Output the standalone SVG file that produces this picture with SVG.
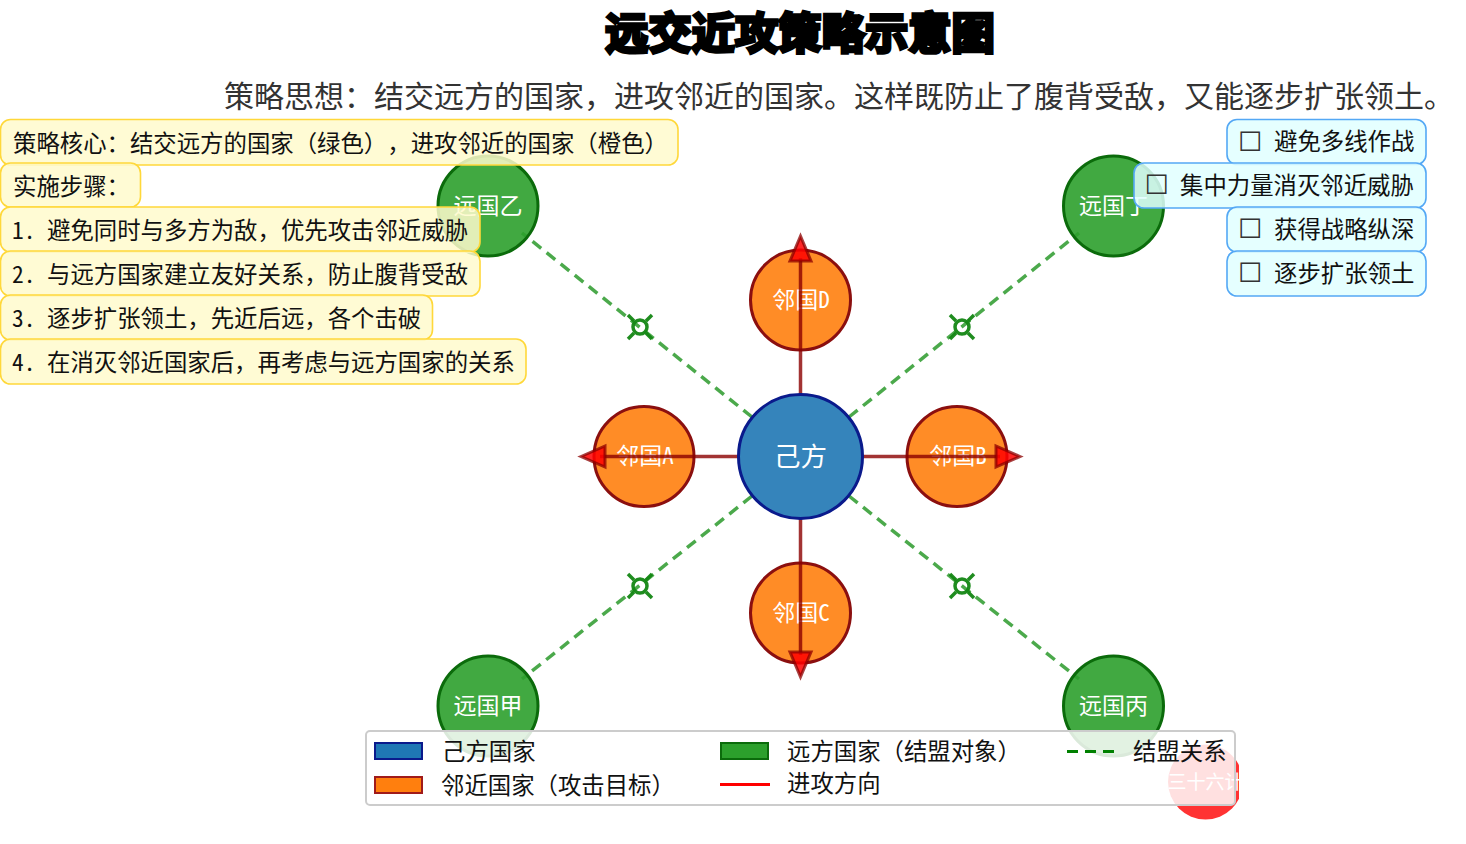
<svg xmlns="http://www.w3.org/2000/svg" width="1466" height="844" viewBox="0 0 1466 844">
<style>
text{font-family:"Noto Sans Mono CJK SC","Noto Sans CJK SC","Noto Sans",sans-serif;fill:#111;text-spacing-trim:space-all}
.node{stroke-width:3}
.far{fill:#2ca02c;fill-opacity:.9;stroke:#0b6b0b}
.near{fill:#ff7f0e;fill-opacity:.9;stroke:#8b0f0f}
.lab{fill:#fff;font-size:23px;text-anchor:middle}
.ally{stroke:#2b9a2b;stroke-opacity:.85;stroke-width:3.5;stroke-dasharray:11 7;fill:none}
.atk{stroke:#8b0000;stroke-opacity:.8;stroke-width:3.5;fill:none}
.head{fill:#f00;fill-opacity:.85;stroke:#8b0000;stroke-opacity:.75;stroke-width:3}
.mk{fill:none;stroke:#138613;stroke-width:3.500;stroke-opacity:.95}
.note{fill:#fffacd;fill-opacity:.85;stroke:#ffd83a;stroke-width:1.6}
.todo{fill:#e0ffff;fill-opacity:.85;stroke:#54a8f5;stroke-width:1.6}
.pt{font-size:23.4px}
.cb{font-size:27px;font-family:"DejaVu Sans",sans-serif;fill:#333}
.lg{font-size:23.4px}
</style>
<defs>
<clipPath id="redclip"><rect x="1100" y="700" width="139" height="140"/></clipPath>
<g id="m"><circle r="7"/><path d="M-6-6L-12-12M6-6L12-12M-6 6L-12 12M6 6L12 12"/></g>
</defs>
<g id="title"><text x="800" y="49" font-size="43.300" font-weight="700" text-anchor="middle" stroke="#000" stroke-width="3.500" style="fill:#000">远交近攻策略示意图</text></g>
<g id="subtitle"><text x="224" y="107" font-size="30" style="fill:#333">策略思想：结交远方的国家，进攻邻近的国家。这样既防止了腹背受敌，又能逐步扩张领土。</text></g>
<g id="stamp" clip-path="url(#redclip)"><circle cx="1205.500" cy="782" r="37.500" fill="#f00" fill-opacity=".8"/><text x="1205.500" y="789" font-size="19" text-anchor="middle" style="fill:#fff">三十六计</text></g>
<g id="connectors-ally">
<path class="ally" d="M752 417L522 233"/><path class="ally" d="M849 417L1079 233"/><path class="ally" d="M752 496L522 679"/><path class="ally" d="M849 496L1079 679"/>
<use href="#m" class="mk" x="640" y="327"/><use href="#m" class="mk" x="962" y="327"/><use href="#m" class="mk" x="640" y="586"/><use href="#m" class="mk" x="962" y="586"/>
</g>
<g id="node-jia"><circle class="node far" cx="488" cy="706" r="50"/><text class="lab" x="488" y="714">远国甲</text></g>
<g id="node-yi"><circle class="node far" cx="488" cy="206" r="50"/><text class="lab" x="488" y="214">远国乙</text></g>
<g id="node-bing"><circle class="node far" cx="1113.500" cy="706" r="50"/><text class="lab" x="1113.500" y="714">远国丙</text></g>
<g id="node-ding"><circle class="node far" cx="1113.500" cy="206" r="50"/><text class="lab" x="1113.500" y="214">远国丁</text></g>
<g id="node-a"><circle class="node near" cx="644" cy="456.500" r="50"/><text class="lab" x="645" y="464">邻国A</text></g>
<g id="node-b"><circle class="node near" cx="957" cy="456.500" r="50"/><text class="lab" x="958" y="464">邻国B</text></g>
<g id="node-c"><circle class="node near" cx="800.500" cy="613" r="50"/><text class="lab" x="801" y="621">邻国C</text></g>
<g id="node-d"><circle class="node near" cx="800.500" cy="300" r="50"/><text class="lab" x="801" y="308">邻国D</text></g>
<g id="connectors-attack">
<path class="atk" d="M738 456.500H600"/><path class="atk" d="M863 456.500H1000"/><path class="atk" d="M800.500 519V655"/><path class="atk" d="M800.500 394V258"/>
<path class="head" d="M800.500 236L811 261H790Z"/><path class="head" d="M800.500 677L811 652H790Z"/><path class="head" d="M581 456.500L605 446V467Z"/><path class="head" d="M1020 456.500L996 446V467Z"/>
</g>
<g id="node-self"><circle cx="800.500" cy="456.500" r="62" fill="#1f77b4" fill-opacity=".9" stroke="#0a1a8c" stroke-width="3"/><text class="lab" x="800.500" y="466" style="font-size:26.500px">己方</text></g>
<g id="notes">
<rect class="note" x="0.500" y="119.500" width="677.500" height="45.500" rx="10"/><text class="pt" x="13" y="152">策略核心：结交远方的国家（绿色），进攻邻近的国家（橙色）</text>
<rect class="note" x="0.500" y="163" width="140" height="44" rx="10"/><text class="pt" x="13" y="195">实施步骤：</text>
<rect class="note" x="0.500" y="207" width="479.500" height="45" rx="10"/><text class="pt" x="12" y="239">1.</text><text class="pt" x="47" y="239">避免同时与多方为敌，优先攻击邻近威胁</text>
<rect class="note" x="0.500" y="251" width="479.500" height="45" rx="10"/><text class="pt" x="12" y="283">2.</text><text class="pt" x="47" y="283">与远方国家建立友好关系，防止腹背受敌</text>
<rect class="note" x="0.500" y="295" width="432" height="45" rx="10"/><text class="pt" x="12" y="327">3.</text><text class="pt" x="47" y="327">逐步扩张领土，先近后远，各个击破</text>
<rect class="note" x="0.500" y="339" width="525.500" height="45" rx="10"/><text class="pt" x="12" y="371">4.</text><text class="pt" x="47" y="371">在消灭邻近国家后，再考虑与远方国家的关系</text>
</g>
<g id="todos">
<rect class="todo" x="1227" y="119.500" width="199" height="45" rx="10"/><text class="cb" x="1238" y="151">☐</text><text class="pt" x="1274" y="150">避免多线作战</text>
<rect class="todo" x="1134" y="163" width="292" height="45" rx="10"/><text class="cb" x="1144.500" y="194">☐</text><text class="pt" x="1180" y="194">集中力量消灭邻近威胁</text>
<rect class="todo" x="1227" y="207" width="199" height="45" rx="10"/><text class="cb" x="1238" y="238">☐</text><text class="pt" x="1274" y="238">获得战略纵深</text>
<rect class="todo" x="1227" y="251" width="199" height="45" rx="10"/><text class="cb" x="1238" y="282">☐</text><text class="pt" x="1274" y="282">逐步扩张领土</text>
</g>
<g id="legend">
<rect x="366" y="731" width="869" height="74" rx="4" fill="#fff" fill-opacity=".85" stroke="#ccc" stroke-width="2"/>
<rect x="375" y="743" width="47" height="16" fill="#1f77b4" stroke="#0a1a8c" stroke-width="2"/><text class="lg" x="442" y="760">己方国家</text>
<rect x="375" y="777" width="47" height="16" fill="#ff7f0e" stroke="#a01a1a" stroke-width="2"/><text class="lg" x="441" y="794">邻近国家（攻击目标）</text>
<rect x="721" y="743" width="47" height="16" fill="#2ca02c" stroke="#0b6b0b" stroke-width="2"/><text class="lg" x="787" y="760">远方国家（结盟对象）</text>
<path d="M720 784.500H770" stroke="#f00" stroke-width="3" fill="none"/><text class="lg" x="787" y="792">进攻方向</text>
<path d="M1067 751.500H1116" stroke="#008000" stroke-width="3" stroke-dasharray="11 7" fill="none"/><text class="lg" x="1133" y="760">结盟关系</text>
</g>
</svg>
